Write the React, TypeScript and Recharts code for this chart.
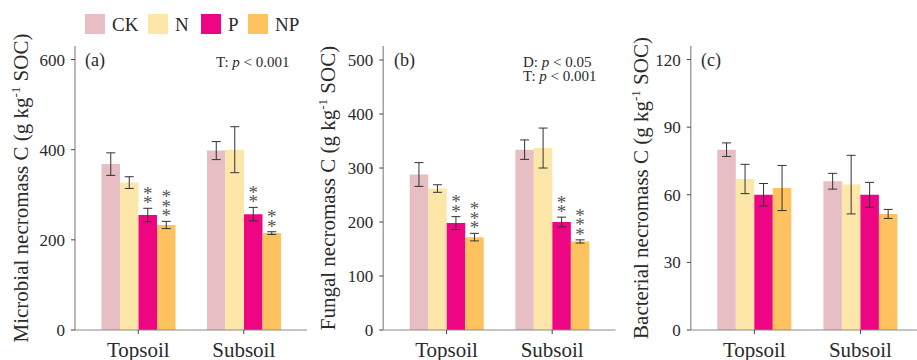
import React from "react";
import { BarChart, Bar, XAxis, YAxis, ErrorBar, LabelList } from "recharts";

const soils = ["Topsoil", "Subsoil"];
const treatments = ["CK", "N", "P", "NP"];
const treatmentColors = ["#E6BEC4", "#FDE7A8", "#EE0584", "#FEC35F"];

// (a) microbial necromass C
const microbialTop = [368, 327, 255, 233];
const microbialTopErr = [25, 13, 15, 8];
const microbialTopSig = ["", "", "**", "***"];
const microbialSub = [398, 400, 257, 215];
const microbialSubErr = [20, 51, 15, 3];
const microbialSubSig = ["", "", "**", "**"];
const microbialTicks = [0, 200, 400, 600];

// (b) fungal necromass C
const fungalTop = [288, 262, 198, 172];
const fungalTopErr = [22, 7, 12, 7];
const fungalTopSig = ["", "", "**", "***"];
const fungalSub = [334, 337, 200, 164];
const fungalSubErr = [18, 37, 9, 3];
const fungalSubSig = ["", "", "**", "***"];
const fungalTicks = [0, 100, 200, 300, 400, 500];

// (c) bacterial necromass C
const bacterialTop = [80, 67, 60, 63];
const bacterialTopErr = [3, 6.5, 5, 10];
const bacterialSub = [66, 64.5, 60, 51.5];
const bacterialSubErr = [3.5, 13, 5.5, 2];
const noSig = ["", "", "", ""];
const bacterialTicks = [0, 30, 60, 90, 120];

const SERIF = "Liberation Serif, Times New Roman, serif";
const FRAME = "#8a8a8a";
const TEXT = "#2b2b2b";
const serifStyle = { fontFamily: SERIF };
const STAR_SIZE = 19;

type Row = Record<string, string | number>;

function buildRows(means: number[][], errs: number[][], sigs: string[][]): Row[] {
  return soils.map((soil, i) => {
    const row: Row = { soil };
    treatments.forEach((t, j) => {
      row[t] = means[i][j];
      row[t + "Err"] = errs[i][j];
      row[t + "Sig"] = sigs[i][j];
    });
    return row;
  });
}

const microbialRows = buildRows(
  [microbialTop, microbialSub],
  [microbialTopErr, microbialSubErr],
  [microbialTopSig, microbialSubSig]
);
const fungalRows = buildRows(
  [fungalTop, fungalSub],
  [fungalTopErr, fungalSubErr],
  [fungalTopSig, fungalSubSig]
);
const bacterialRows = buildRows(
  [bacterialTop, bacterialSub],
  [bacterialTopErr, bacterialSubErr],
  [noSig, noSig]
);

// stacked asterisks sitting above the error bar
function starsFor(t: string, rows: Row[]) {
  return (props: any) => {
    const sig = String(props.value ?? "");
    if (!sig) return null;
    const vb = props.viewBox ?? {};
    const x = Number(props.x ?? vb.x);
    const y = Number(props.y ?? vb.y);
    const w = Number(props.width ?? vb.width);
    const h = Number(props.height ?? vb.height);
    const row = rows[props.index];
    const top = Math.min(y, y + h);
    const errPx = (Number(row[t + "Err"]) * Math.abs(h)) / Number(row[t]);
    const cx = x + w / 2;
    const base = top - errPx - 8.5;
    return (
      <g>
        {sig.split("").map((s, k) => (
          <text
            key={k}
            x={cx}
            y={base - k * 9.5 + STAR_SIZE * 0.5}
            textAnchor="middle"
            fontSize={STAR_SIZE}
            style={serifStyle}
            fill="#555"
          >
            {s}
          </text>
        ))}
      </g>
    );
  };
}

interface PanelProps {
  rows: Row[];
  domainMax: number;
  ticks: number[];
  axisWidth: number;
  marginRight: number;
}

function Panel({ rows, domainMax, ticks, axisWidth, marginRight }: PanelProps) {
  return (
    <BarChart
      width={310}
      height={360}
      data={rows}
      margin={{ top: 46, right: marginRight, bottom: 0, left: 0 }}
      barGap={0}
      style={serifStyle}
    >
      <XAxis
        dataKey="soil"
        height={30}
        padding={{ left: 10.5, right: 10.5 }}
        interval={0}
        axisLine={{ stroke: FRAME, strokeWidth: 1.2 }}
        tickLine={{ stroke: "#444" }}
        tickSize={4}
        tickMargin={8}
        tick={{ fill: TEXT, fontSize: 21, style: serifStyle }}
      />
      <XAxis
        xAxisId="top"
        orientation="top"
        dataKey="soil"
        height={0}
        tick={false}
        tickLine={false}
        axisLine={{ stroke: FRAME, strokeWidth: 1.2 }}
      />
      <YAxis
        width={axisWidth}
        domain={[0, domainMax]}
        ticks={ticks}
        allowDataOverflow
        axisLine={{ stroke: FRAME, strokeWidth: 1.2 }}
        tickLine={{ stroke: "#444" }}
        tickSize={4}
        tickMargin={6}
        tick={{ fill: TEXT, fontSize: 17, style: serifStyle }}
      />
      <YAxis
        yAxisId="right"
        orientation="right"
        width={0}
        domain={[0, 1]}
        tick={false}
        tickLine={false}
        axisLine={{ stroke: FRAME, strokeWidth: 1.2 }}
      />
      {treatments.map((t, j) => (
        <Bar
          key={t}
          dataKey={t}
          fill={treatmentColors[j]}
          barSize={18.5}
          isAnimationActive={false}
        >
          <ErrorBar dataKey={t + "Err"} width={4.5} stroke="#333" strokeWidth={1} />
          <LabelList dataKey={t + "Sig"} content={starsFor(t, rows)} />
        </Bar>
      ))}
    </BarChart>
  );
}

function YTitle({ x, text }: { x: number; text: string }) {
  return (
    <text
      x={x}
      y={188}
      transform={`rotate(-90, ${x}, 188)`}
      textAnchor="middle"
      fontSize={21}
      style={serifStyle}
      fill={TEXT}
    >
      {text} C (g kg
      <tspan dy={-8} fontSize={13}>
        -1
      </tspan>
      <tspan dy={8}> SOC)</tspan>
    </text>
  );
}

function PText({ x, y, label, rest }: { x: number; y: number; label: string; rest: string }) {
  return (
    <text x={x} y={y} fontSize={15} style={serifStyle} fill={TEXT}>
      {label}: <tspan fontStyle="italic">p</tspan> {rest}
    </text>
  );
}

const legendX = [85, 148, 201, 248];

export default function App() {
  return (
    <div
      style={{
        position: "fixed",
        left: 0,
        top: 0,
        width: 917,
        height: 360,
        overflow: "hidden",
        background: "#fff",
        fontFamily: SERIF,
      }}
    >
      <div style={{ position: "absolute", left: 0, top: 0 }}>
        <Panel rows={microbialRows} domainMax={630} ticks={microbialTicks} axisWidth={75} marginRight={3} />
      </div>
      <div style={{ position: "absolute", left: 310, top: 0 }}>
        <Panel rows={fungalRows} domainMax={526} ticks={fungalTicks} axisWidth={73.2} marginRight={4.5} />
      </div>
      <div style={{ position: "absolute", left: 620, top: 0 }}>
        <Panel rows={bacterialRows} domainMax={126} ticks={bacterialTicks} axisWidth={70.8} marginRight={6} />
      </div>
      <svg
        width={917}
        height={360}
        style={{ position: "absolute", left: 0, top: 0, pointerEvents: "none" }}
      >
        {treatments.map((t, j) => (
          <g key={t}>
            <rect x={legendX[j]} y={14} width={20} height={20} fill={treatmentColors[j]} />
            <text x={legendX[j] + 27} y={31} fontSize={19} style={serifStyle} fill={TEXT}>
              {t}
            </text>
          </g>
        ))}
        <YTitle x={28} text="Microbial necromass" />
        <YTitle x={335} text="Fungal necromass" />
        <YTitle x={648} text="Bacterial necromass" />
        <text x={85} y={66} fontSize={18} style={serifStyle} fill={TEXT}>(a)</text>
        <text x={394} y={66} fontSize={18} style={serifStyle} fill={TEXT}>(b)</text>
        <text x={701} y={66} fontSize={18} style={serifStyle} fill={TEXT}>(c)</text>
        <PText x={216} y={66.5} label="T" rest="< 0.001" />
        <PText x={523} y={66.5} label="D" rest="< 0.05" />
        <PText x={523} y={81} label="T" rest="< 0.001" />
      </svg>
    </div>
  );
}
